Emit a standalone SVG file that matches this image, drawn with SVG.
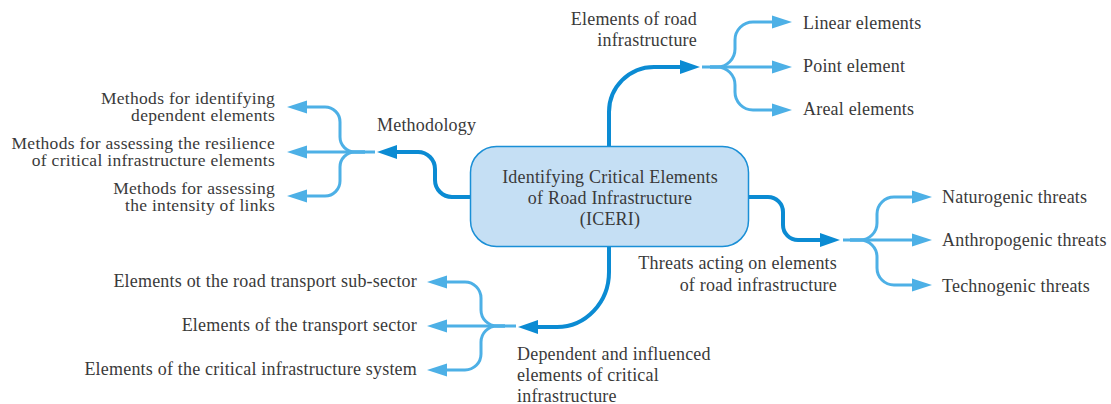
<svg xmlns="http://www.w3.org/2000/svg" width="1111" height="404" viewBox="0 0 1111 404">
<style>
text{font-family:"Liberation Serif","DejaVu Serif","Times New Roman",serif;font-size:18px;letter-spacing:0.2px;fill:#3a3a3a}
.r{text-anchor:end}
.c{text-anchor:middle}
.t{font-size:17.5px;letter-spacing:0.3px}
.main{fill:none;stroke:#0b8bd3;stroke-width:4}
.sub{fill:none;stroke:#4db0e6;stroke-width:3}
</style>
<defs>
<marker id="hd" markerUnits="userSpaceOnUse" markerWidth="22" markerHeight="16" viewBox="0 -8 22 16" refX="0" refY="0" orient="auto">
<path d="M0,-7 L20,0 L0,7 z" fill="#0b8bd3"/>
</marker>
<marker id="hl" markerUnits="userSpaceOnUse" markerWidth="22" markerHeight="16" viewBox="0 -8 22 16" refX="0" refY="0" orient="auto">
<path d="M0,-6.5 L20,0 L0,6.5 z" fill="#4db0e6"/>
</marker>
</defs>
<g id="connectors">
<path class="main" d="M609,146 V112 A45,45 0 0 1 654,67 H680" marker-end="url(#hd)"/>
<path class="sub" d="M702,67 H772" marker-end="url(#hl)"/>
<path class="sub" d="M710,67 H717 A18,18 0 0 0 735,49 V40 A18,18 0 0 1 753,22 H772" marker-end="url(#hl)"/>
<path class="sub" d="M710,67 H717 A18,18 0 0 1 735,85 V92 A18,18 0 0 0 753,110 H772" marker-end="url(#hl)"/>
<path class="main" d="M749,197 H768 A15,15 0 0 1 783,212 V225 A15,15 0 0 0 798,240 H820" marker-end="url(#hd)"/>
<path class="sub" d="M843,240 H912" marker-end="url(#hl)"/>
<path class="sub" d="M850,240 H860 A17,17 0 0 0 877,223 V214 A17,17 0 0 1 894,197 H912" marker-end="url(#hl)"/>
<path class="sub" d="M850,240 H860 A17,17 0 0 1 877,257 V268 A17,17 0 0 0 894,285 H912" marker-end="url(#hl)"/>
<path class="main" d="M470,197 H452 A17,17 0 0 1 435,180 V169 A17,17 0 0 0 418,152 H397" marker-end="url(#hd)"/>
<path class="sub" d="M375,152 H307" marker-end="url(#hl)"/>
<path class="sub" d="M365,152 H355 A15,15 0 0 1 340,137 V122 A15,15 0 0 0 325,107 H307" marker-end="url(#hl)"/>
<path class="sub" d="M365,152 H355 A15,15 0 0 0 340,167 V181 A15,15 0 0 1 325,196 H307" marker-end="url(#hl)"/>
<path class="main" d="M609,247 V272 A52,55 0 0 1 557,327 H538" marker-end="url(#hd)"/>
<path class="sub" d="M516,326 H447" marker-end="url(#hl)"/>
<path class="sub" d="M505,326 H497 A16,16 0 0 1 481,310 V298 A16,16 0 0 0 465,282 H447" marker-end="url(#hl)"/>
<path class="sub" d="M505,326 H497 A16,16 0 0 0 481,342 V354 A16,16 0 0 1 465,370 H447" marker-end="url(#hl)"/>
</g>
<g id="center">
<rect x="470.5" y="146.5" width="278" height="100" rx="26" ry="26" fill="#c5dff4" stroke="#1a8fd6" stroke-width="1.5"/>
<text class="c"><tspan x="610" y="183">Identifying Critical Elements</tspan><tspan x="610" y="204">of Road Infrastructure</tspan><tspan x="610" y="225">(ICERI)</tspan></text>
</g>
<g id="road-elements">
<text class="r"><tspan x="697" y="25">Elements of road</tspan><tspan x="697" y="46">infrastructure</tspan></text>
</g>
<g id="linear"><text x="803" y="29">Linear elements</text></g>
<g id="point"><text x="803" y="72">Point element</text></g>
<g id="areal"><text x="803" y="115">Areal elements</text></g>
<g id="threats">
<text class="r"><tspan x="837" y="269">Threats acting on elements</tspan><tspan x="837" y="291">of road infrastructure</tspan></text>
</g>
<g id="naturogenic"><text x="942" y="203">Naturogenic threats</text></g>
<g id="anthropogenic"><text x="942" y="246">Anthropogenic threats</text></g>
<g id="technogenic"><text x="942" y="292">Technogenic threats</text></g>
<g id="methodology"><text x="377" y="131">Methodology</text></g>
<g id="m-dependent">
<text class="r t"><tspan x="275" y="104">Methods for identifying</tspan><tspan x="275" y="121">dependent elements</tspan></text>
</g>
<g id="m-resilience">
<text class="r t"><tspan x="275" y="149">Methods for assessing the resilience</tspan><tspan x="275" y="166">of critical infrastructure elements</tspan></text>
</g>
<g id="m-intensity">
<text class="r t"><tspan x="275" y="194">Methods for assessing</tspan><tspan x="275" y="211">the intensity of links</tspan></text>
</g>
<g id="dependent">
<text><tspan x="517" y="360">Dependent and influenced</tspan><tspan x="517" y="381">elements of critical</tspan><tspan x="517" y="402">infrastructure</tspan></text>
</g>
<g id="subsector"><text class="r" x="417" y="287">Elements ot the road transport sub-sector</text></g>
<g id="transport"><text class="r" x="417" y="331">Elements of the transport sector</text></g>
<g id="ci-system"><text class="r" x="417" y="375">Elements of the critical infrastructure system</text></g>
</svg>
